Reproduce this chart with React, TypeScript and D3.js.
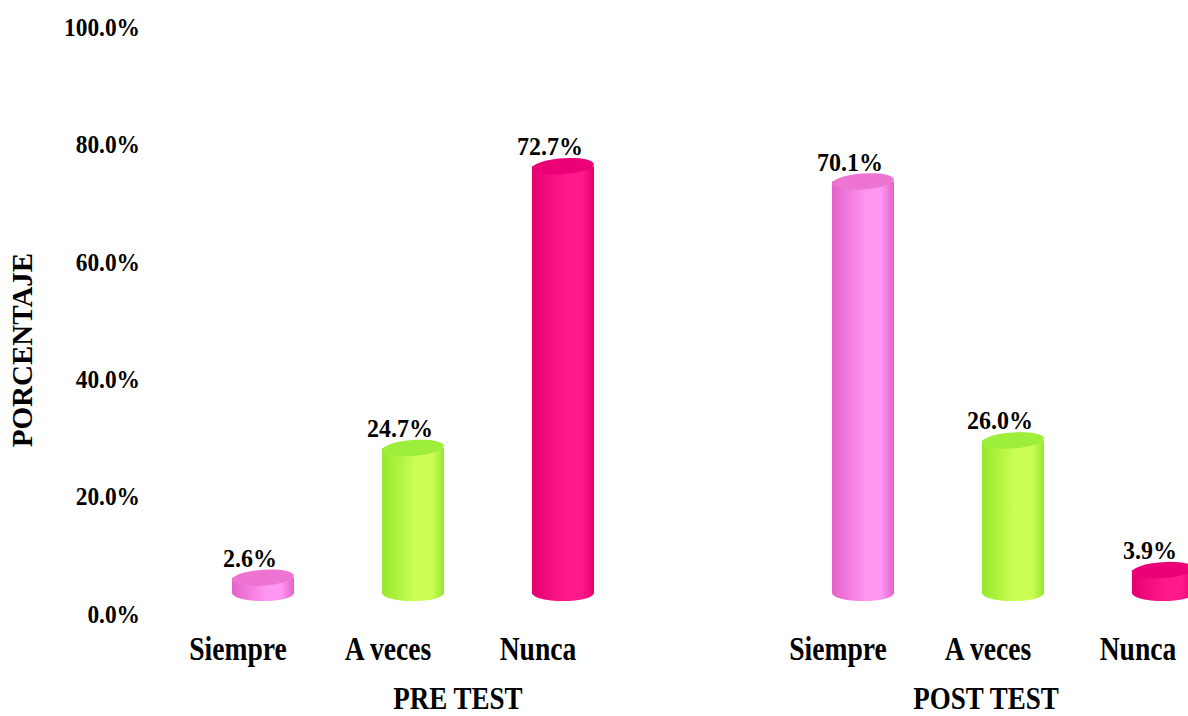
import React from "react";
import * as d3 from "d3";

const groups = ["PRE TEST", "POST TEST"];
const series = ["Siempre", "A veces", "Nunca"];
const values: number[][] = [
  [2.6, 24.7, 72.7],
  [70.1, 26.0, 3.9],
];
const yTicks = [0, 20, 40, 60, 80, 100];
const seriesColors = [
  { edge: "#E462C9", mid: "#FF96F2", top: "#EE74D2" },
  { edge: "#96E82E", mid: "#CCFF55", top: "#9EEE3C" },
  { edge: "#E6006F", mid: "#FF1A8C", top: "#EC0077" },
];
const groupLabelOffsets = [45, -27];

const W = 1188;
const H = 716;
const depthX = 25;
const depthY = 21;
const rx = 31;
const ry = 8;

export default function App() {
  const y = d3.scaleLinear().domain([0, 100]).range([614, 27]);
  const xGroup = d3.scaleBand<string>().domain(groups).range([113, 1313]).padding(0);
  const xSeries = d3
    .scaleBand<string>()
    .domain(series)
    .range([75, 525])
    .padding(0);

  const serif = "'Liberation Serif', 'Times New Roman', serif";

  return (
    <svg width={W} height={H} style={{ position: "absolute", left: 0, top: 0, background: "#fff" }}>
      <defs>
        {seriesColors.map((c, i) => (
          <linearGradient key={i} id={`g${i}`} x1="0" x2="1" y1="0" y2="0">
            <stop offset="0" stopColor={c.edge} />
            <stop offset="0.55" stopColor={c.mid} />
            <stop offset="0.8" stopColor={c.mid} />
            <stop offset="1" stopColor={c.edge} />
          </linearGradient>
        ))}
      </defs>

      {/* y tick labels */}
      {yTicks.map((t) => (
        <text
          key={t}
          transform={`translate(140,${y(t)}) scale(1,1.1)`}
          textAnchor="end"
          dominantBaseline="central"
          fontFamily={serif}
          fontWeight="bold"
          fontSize={23.4}
          fill="#000"
        >
          {d3.format(".1f")(t)}%
        </text>
      ))}

      {/* y title */}
      <text
        transform={`translate(22,350) rotate(-90)`}
        textAnchor="middle"
        dominantBaseline="central"
        fontFamily={serif}
        fontWeight="bold"
        fontSize={29}
        fill="#000"
      >
        PORCENTAJE
      </text>

      {groups.map((g, gi) => {
        const gx = xGroup(g)!;
        return (
          <g key={g}>
            {series.map((s, si) => {
              const v = values[gi][si];
              const cx = gx + xSeries(s)! + xSeries.bandwidth() / 2;
              const base = y(0) - depthY;
              const top = y(v) - depthY;
              const x0 = cx - rx;
              const x1 = cx + rx;
              const body = `M${x0},${top} L${x0},${base} A${rx},${ry} 0 0 0 ${x1},${base} L${x1},${top} Z`;
              return (
                <g key={s}>
                  <path d={body} fill={`url(#g${si})`} />
                  <ellipse
                    cx={cx}
                    cy={top}
                    rx={rx}
                    ry={ry}
                    fill={seriesColors[si].top}
                    transform={`rotate(-4,${cx},${top})`}
                  />
                  <text
                    transform={`translate(${cx - 13},${top - 11}) scale(1,1.08)`}
                    textAnchor="middle"
                    fontFamily={serif}
                    fontWeight="bold"
                    fontSize={24}
                    fill="#000"
                  >
                    {d3.format(".1f")(v)}%
                  </text>
                  <text
                    transform={`translate(${cx - depthX},${660}) scale(1,1.2)`}
                    textAnchor="middle"
                    fontFamily={serif}
                    fontWeight="bold"
                    fontSize={27.6}
                    fill="#000"
                  >
                    {s}
                  </text>
                </g>
              );
            })}
            <text
              transform={`translate(${gx + 300 + groupLabelOffsets[gi]},${709}) scale(1,1.2)`}
              textAnchor="middle"
              fontFamily={serif}
              fontWeight="bold"
              fontSize={27}
              fill="#000"
            >
              {g}
            </text>
          </g>
        );
      })}
    </svg>
  );
}
